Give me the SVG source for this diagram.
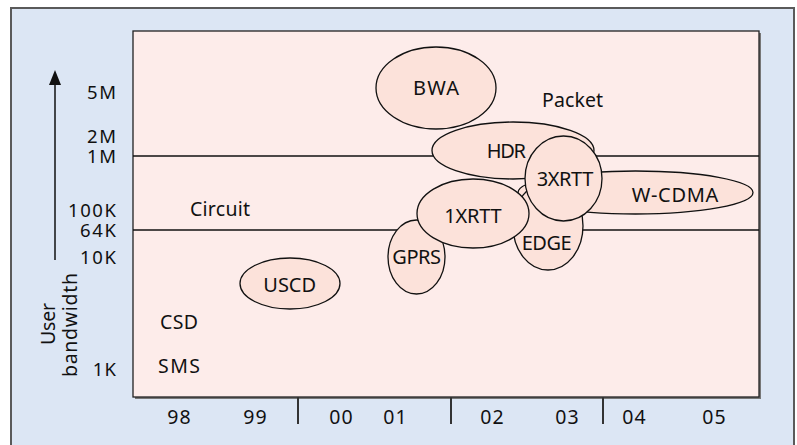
<svg xmlns="http://www.w3.org/2000/svg" width="797" height="445" viewBox="0 0 797 445">
<defs>
<style>
text{font-family:"Noto Sans","DejaVu Sans",sans-serif;fill:#111;}
.ax{font-size:18.5px;text-anchor:end;}
.yr{font-size:19.5px;text-anchor:middle;}
.lb{font-size:19.5px;}
.el{font-size:20px;text-anchor:middle;}
.node ellipse{fill:#fce2da;stroke:#111;stroke-width:1.3;}
.hline{stroke:#111;stroke-width:1.3;}
.tick{stroke:#333;stroke-width:2;}
</style>
</defs>
<rect x="11" y="8" width="783" height="450" fill="#dce6f4" stroke="#5a5a5a" stroke-width="2"/>
<rect x="135" y="33" width="626" height="366" fill="#777"/>
<rect x="133" y="31" width="626" height="366" fill="#fdecea" stroke="#222" stroke-width="1.3"/>
<g id="connectors">
<line class="hline" x1="133" y1="156" x2="759" y2="156"/>
<line class="hline" x1="133" y1="230" x2="759" y2="230"/>
<line x1="55" y1="260" x2="55" y2="82" stroke="#111" stroke-width="1.5"/>
<polygon points="55,70 49,85 61,85" fill="#111"/>
<line class="tick" x1="298" y1="397" x2="298" y2="424"/>
<line class="tick" x1="451" y1="397" x2="451" y2="424"/>
<line class="tick" x1="603" y1="397" x2="603" y2="424"/>
</g>
<g id="axis-labels">
<text class="ax" x="116" y="99" textLength="29">5M</text>
<text class="ax" x="116" y="143" textLength="29">2M</text>
<text class="ax" x="116" y="163" textLength="29">1M</text>
<text class="ax" x="116" y="216.5" textLength="48">100K</text>
<text class="ax" x="116" y="236.7" textLength="36">64K</text>
<text class="ax" x="116" y="264.3" textLength="36">10K</text>
<text class="ax" x="116" y="376" textLength="23.3">1K</text>
<text class="lb" transform="translate(55,324) rotate(-90)" text-anchor="middle" font-size="20" textLength="42">User</text>
<text class="lb" transform="translate(77,325) rotate(-90)" text-anchor="middle" font-size="20" textLength="104">bandwidth</text>
<text class="yr" x="179" y="424" textLength="23.3">98</text>
<text class="yr" x="255" y="424" textLength="23.3">99</text>
<text class="yr" x="341" y="424" textLength="23.3">00</text>
<text class="yr" x="395" y="424" textLength="23.3">01</text>
<text class="yr" x="492" y="424" textLength="23.3">02</text>
<text class="yr" x="567" y="424" textLength="23.3">03</text>
<text class="yr" x="634" y="424" textLength="23.3">04</text>
<text class="yr" x="714" y="424" textLength="23.3">05</text>
</g>
<g id="region-labels">
<text class="lb" x="190" y="215.5" textLength="60">Circuit</text>
<text class="lb" x="542" y="107" textLength="61">Packet</text>
<text class="lb" x="160" y="329" textLength="38">CSD</text>
<text class="lb" x="158" y="373" textLength="42">SMS</text>
</g>
<g id="BWA" class="node"><ellipse cx="436" cy="88" rx="60" ry="41"/><text class="el" x="436" y="95" textLength="46">BWA</text></g>
<g id="GPRS" class="node"><ellipse cx="416.5" cy="257" rx="28.5" ry="37"/><text class="el" x="416.7" y="264" textLength="48.7">GPRS</text></g>
<g id="HDR" class="node"><ellipse cx="513" cy="150.5" rx="81" ry="28.5"/><text class="el" x="506.3" y="158" textLength="39.3">HDR</text></g>
<g id="W-CDMA" class="node"><ellipse cx="635.5" cy="192.5" rx="117.5" ry="21.5"/><text class="el" x="675" y="201.7" textLength="86.7">W-CDMA</text></g>
<g id="EDGE" class="node"><ellipse cx="548" cy="226" rx="35" ry="44"/><text class="el" x="546.7" y="250" textLength="50">EDGE</text></g>
<g id="1XRTT" class="node"><ellipse cx="473" cy="213.5" rx="56" ry="34.5"/><text class="el" x="473" y="223" textLength="57.3">1XRTT</text></g>
<g id="3XRTT" class="node"><ellipse cx="563.5" cy="178.5" rx="38.5" ry="42.5"/><text class="el" x="565" y="185.7" textLength="56.6">3XRTT</text></g>
<g id="USCD" class="node"><ellipse cx="290" cy="283.5" rx="50" ry="25.5"/><text class="el" x="289.7" y="292" textLength="52.7">USCD</text></g>
</svg>
